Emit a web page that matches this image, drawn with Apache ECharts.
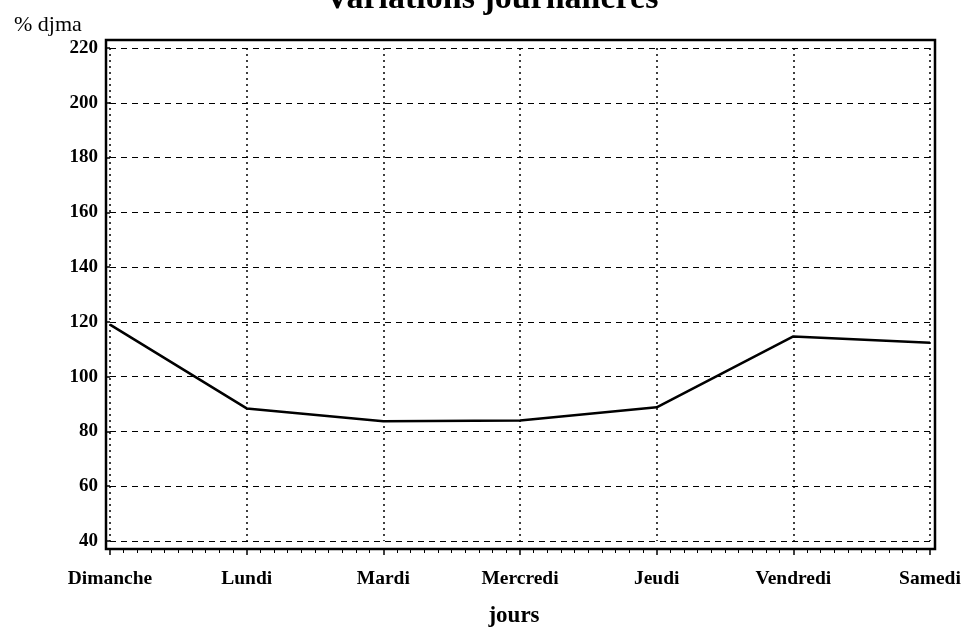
<!DOCTYPE html>
<html>
<head>
<meta charset="utf-8">
<script src="https://cdn.jsdelivr.net/npm/echarts@6/dist/echarts.min.js"></script>
<style>
  html, body { margin: 0; padding: 0; background: #fff; }
  #chart { width: 963px; height: 631px; }
</style>
</head>
<body>
<div id="chart"></div>
<script>
// jours de la semaine et % djma
var jours = ['Dimanche', 'Lundi', 'Mardi', 'Mercredi', 'Jeudi', 'Vendredi', 'Samedi'];
var djma = [119, 88.4, 83.7, 84, 88.8, 114.7, 112.4];
var yMin = 40, yMax = 220, yStep = 20;

var serif = '"Liberation Serif", "DejaVu Serif", serif';

var myChart = echarts.init(document.getElementById('chart'));

var option = {
    animation: false,
    backgroundColor: '#fff',
    title: [
        {
            text: 'Variations journalières',
            left: 320,
            top: -23,
            textStyle: { fontFamily: serif, fontSize: 34, fontWeight: 'bold', color: '#000' }
        },
        {
            text: '% djma',
            left: 9,
            top: 9,
            textStyle: { fontFamily: serif, fontSize: 22, fontWeight: 'normal', color: '#000' }
        }
    ],
    grid: [
        // cadre autour de la zone de tracé
        { left: 106, right: 28, top: 40, bottom: 82, show: true, borderColor: '#000', borderWidth: 2.5,
          backgroundColor: 'transparent', outerBoundsMode: 'none', containLabel: false },
        // zone des données
        { left: 110, right: 33, top: 48, bottom: 90, outerBoundsMode: 'none', containLabel: false }
    ],
    xAxis: [
        {
            type: 'category',
            gridIndex: 1,
            position: 'bottom',
            data: jours,
            boundaryGap: false,
            axisLine: { show: false },
            axisTick: { show: false },
            axisLabel: { margin: 28, fontFamily: serif, fontSize: 19.5, fontWeight: 'bold', color: '#000' },
            splitLine: { show: true, lineStyle: { color: '#000', width: 1.5, type: [2, 4] } },
            name: 'jours',
            nameLocation: 'middle',
            nameGap: 64,
            nameTextStyle: { fontFamily: serif, fontSize: 23, fontWeight: 'bold', color: '#000', padding: [0, 12, 0, 0] }
        },
        {
            // petites graduations sous le cadre
            type: 'value',
            gridIndex: 1,
            position: 'bottom',
            min: 0,
            max: jours.length - 1,
            interval: 1,
            offset: 8,
            axisLine: { show: false },
            axisTick: { show: true, length: 6, lineStyle: { color: '#000', width: 1.5 } },
            minorTick: { show: true, splitNumber: 10, length: 4, lineStyle: { color: '#000', width: 1 } },
            axisLabel: { show: false },
            splitLine: { show: false }
        }
    ],
    yAxis: {
        type: 'value',
        gridIndex: 1,
        min: yMin,
        max: yMax,
        interval: yStep,
        offset: 4,
        axisLine: { show: false },
        axisTick: { show: true, length: 4, lineStyle: { color: '#000', width: 1.5 } },
        axisLabel: { margin: 8, fontFamily: serif, fontSize: 19, fontWeight: 'bold', color: '#000' },
        splitLine: { show: true, lineStyle: { color: '#000', width: 1, type: [6, 5] } }
    },
    series: [
        {
            type: 'line',
            xAxisIndex: 0,
            yAxisIndex: 0,
            data: djma,
            showSymbol: false,
            lineStyle: { color: '#000', width: 2.5 }
        }
    ]
};
myChart.setOption(option);
</script>
</body>
</html>
